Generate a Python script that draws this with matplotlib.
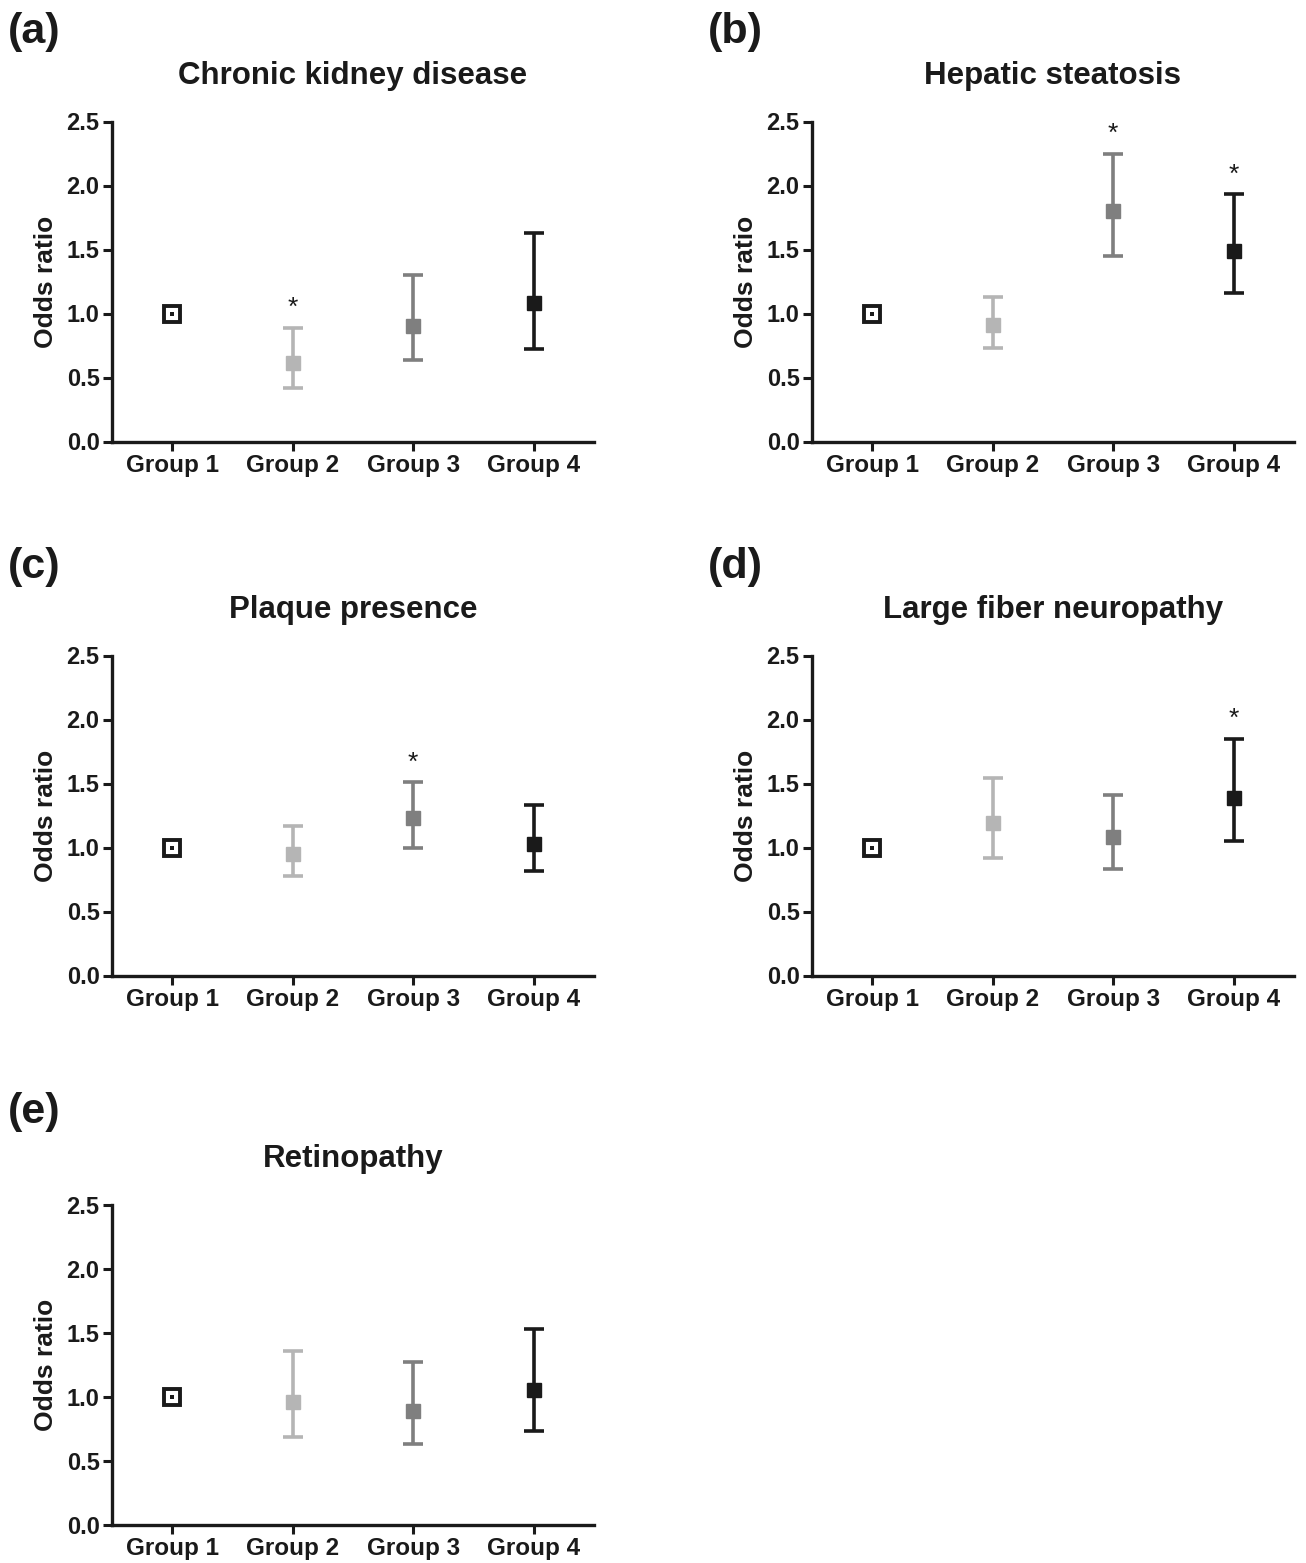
import numpy as np
import matplotlib.pyplot as plt

plt.rcParams['font.family'] = ['Liberation Sans', 'DejaVu Sans']

groups = ['Group 1', 'Group 2', 'Group 3', 'Group 4']
group_colors = ['#1a1a1a', '#b5b5b5', '#7f7f7f', '#1a1a1a']

# odds ratio, lower CI, upper CI per panel (group 1 is the reference)
ckd_or = [1.0, 0.61, 0.90, 1.08]
ckd_lo = [1.0, 0.42, 0.64, 0.72]
ckd_hi = [1.0, 0.89, 1.30, 1.63]
ckd_sig = [False, True, False, False]

hep_or = [1.0, 0.91, 1.80, 1.49]
hep_lo = [1.0, 0.73, 1.45, 1.16]
hep_hi = [1.0, 1.13, 2.25, 1.93]
hep_sig = [False, False, True, True]

plq_or = [1.0, 0.95, 1.23, 1.03]
plq_lo = [1.0, 0.78, 1.00, 0.82]
plq_hi = [1.0, 1.17, 1.51, 1.33]
plq_sig = [False, False, True, False]

neu_or = [1.0, 1.19, 1.08, 1.39]
neu_lo = [1.0, 0.92, 0.83, 1.05]
neu_hi = [1.0, 1.54, 1.41, 1.85]
neu_sig = [False, False, False, True]

ret_or = [1.0, 0.96, 0.89, 1.05]
ret_lo = [1.0, 0.69, 0.63, 0.73]
ret_hi = [1.0, 1.36, 1.27, 1.53]
ret_sig = [False, False, False, False]

panels = [
    ('(a)', 'Chronic kidney disease', ckd_or, ckd_lo, ckd_hi, ckd_sig),
    ('(b)', 'Hepatic steatosis', hep_or, hep_lo, hep_hi, hep_sig),
    ('(c)', 'Plaque presence', plq_or, plq_lo, plq_hi, plq_sig),
    ('(d)', 'Large fiber neuropathy', neu_or, neu_lo, neu_hi, neu_sig),
    ('(e)', 'Retinopathy', ret_or, ret_lo, ret_hi, ret_sig),
]

W, H = 1306, 1563
fig = plt.figure(figsize=(W / 100, H / 100), dpi=100)

# axes boxes in pixels: left, top(y=2.5), bottom(y=0)
boxes = [(112, 121.5, 441.5), (812, 121.5, 441.5),
         (112, 655.5, 975.5), (812, 655.5, 975.5),
         (112, 1204.5, 1525)]
label_pos = [(8, 32), (708, 32), (8, 567), (708, 567), (8, 1112)]
ax_w = 482

for (tag, title, orr, lo, hi, sig), (l, t, b), (lx, ly) in zip(panels, boxes, label_pos):
    ax = fig.add_axes([l / W, 1 - b / H, ax_w / W, (b - t) / H])
    x = np.arange(len(groups))
    for i in range(len(groups)):
        c = group_colors[i]
        if i == 0:
            ax.plot(x[i], orr[i], 's', ms=11.5, mfc='white', mec=c, mew=2.8, zorder=3)
            ax.plot(x[i], orr[i], 's', ms=2.4, color=c, mew=0, zorder=4)
        else:
            ax.errorbar(x[i], orr[i], yerr=[[orr[i] - lo[i]], [hi[i] - orr[i]]],
                        fmt='s', color=c, ms=10.5, elinewidth=2.6, capsize=7,
                        capthick=2.6, zorder=3)
        if sig[i]:
            ax.annotate('*', xy=(x[i], hi[i]), xytext=(0, 14), textcoords='offset points',
                        ha='center', va='center', fontsize=19, color='#1a1a1a')
    ax.set_xlim(-0.5, 3.5)
    ax.set_ylim(0, 2.5)
    ax.set_xticks(x)
    ax.set_xticklabels(groups, fontsize=17.5, fontweight='bold', color='#1a1a1a')
    ax.set_yticks([0, 0.5, 1.0, 1.5, 2.0, 2.5])
    ax.set_yticklabels(['0.0', '0.5', '1.0', '1.5', '2.0', '2.5'],
                       fontsize=17, fontweight='bold', color='#1a1a1a')
    ax.tick_params(width=2.2, length=6.5, color='#1a1a1a', pad=2.5)
    for s in ['top', 'right']:
        ax.spines[s].set_visible(False)
    for s in ['left', 'bottom']:
        ax.spines[s].set_linewidth(2.4)
        ax.spines[s].set_color('#1a1a1a')
    ax.set_ylabel('Odds ratio', fontsize=19, fontweight='bold', color='#1a1a1a', labelpad=6)
    ax.set_title(title, fontsize=22.5, fontweight='bold', color='#1a1a1a', pad=27)
    fig.text(lx / W, 1 - ly / H, tag, fontsize=31, fontweight='bold',
             color='#1a1a1a', ha='left', va='center')

fig.savefig('out.png', dpi=100)
